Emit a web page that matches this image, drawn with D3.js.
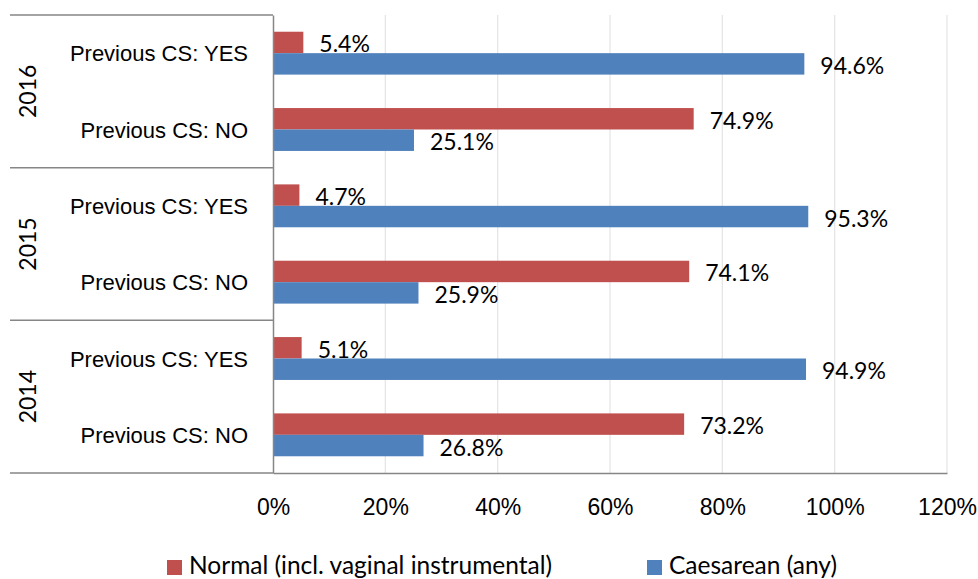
<!DOCTYPE html>
<html>
<head>
<meta charset="utf-8">
<script src="https://cdn.jsdelivr.net/npm/d3@7"></script>
<style>
  html, body { margin: 0; padding: 0; background: #fff; }
  svg { display: block; font-family: Lato, "Open Sans", sans-serif; }
  .axis path, .axis line { stroke: #868686; }
  .axis text { font-size: 23px; fill: #000; }
</style>
</head>
<body>
<script>
// data
const years = ['2016', '2015', '2014'];
const previousCS = ['Previous CS: YES', 'Previous CS: NO'];
const seriesNames = ['Normal (incl. vaginal instrumental)', 'Caesarean (any)'];
const seriesColors = ['#C0504D', '#4F81BD'];
// per year, per previousCS row
const normalValues = [5.4, 74.9, 4.7, 74.1, 5.1, 73.2];
const caesareanValues = [94.6, 25.1, 95.3, 25.9, 94.9, 26.8];
const xTicks = [0, 20, 40, 60, 80, 100, 120];

const width = 978, height = 579;
const trbl = { top: 15, right: 31, bottom: 106, left: 273 };

const svg = d3.select(document.body).append('svg')
  .attr('width', width).attr('height', height);

const rows = [];
years.forEach((y, i) => {
  previousCS.forEach((c, j) => {
    const k = i * previousCS.length + j;
    rows.push({ key: y + '|' + c, year: y, label: c,
      values: [normalValues[k], caesareanValues[k]] });
  });
});

const x = d3.scaleLinear()
  .domain([0, 120])
  .range([trbl.left, width - trbl.right]);

const y = d3.scaleBand()
  .domain(rows.map(d => d.key))
  .range([trbl.top, height - trbl.bottom]);

const ySeries = d3.scaleBand()
  .domain([0, 1])
  .range([0, y.bandwidth()])
  .paddingInner(0)
  .paddingOuter(0.78);

// gridlines
svg.append('g')
  .selectAll('line')
  .data(xTicks.slice(1))
  .join('line')
  .attr('x1', d => x(d)).attr('x2', d => x(d))
  .attr('y1', trbl.top).attr('y2', height - trbl.bottom)
  .attr('stroke', '#e6e6e6').attr('stroke-width', 1.3);

// bars
const rowG = svg.append('g')
  .selectAll('g')
  .data(rows)
  .join('g')
  .attr('transform', d => `translate(0, ${y(d.key)})`);

rowG.selectAll('rect')
  .data(d => d.values)
  .join('rect')
  .attr('x', x(0))
  .attr('y', (d, i) => ySeries(i))
  .attr('width', d => x(d) - x(0))
  .attr('height', ySeries.bandwidth())
  .attr('fill', (d, i) => seriesColors[i]);

rowG.selectAll('text')
  .data(d => d.values)
  .join('text')
  .attr('x', d => x(d) + 16)
  .attr('y', (d, i) => ySeries(i) + ySeries.bandwidth() / 2 + 10)
  .attr('font-size', 23)
  .attr('fill', '#000')
  .text(d => d.toFixed(1) + '%');

// x axis
const xAxis = d3.axisBottom(x)
  .tickValues(xTicks)
  .tickFormat(d => d + '%')
  .tickSize(0)
  .tickPadding(26);
svg.append('g')
  .attr('class', 'axis')
  .attr('transform', `translate(0, ${height - trbl.bottom})`)
  .call(xAxis)
  .call(g => g.select('.domain').attr('stroke-width', 1.5));

// y axis (inner level)
const yAxis = d3.axisLeft(y)
  .tickFormat(k => rows.find(r => r.key === k).label)
  .tickSize(0)
  .tickPadding(25);
svg.append('g')
  .attr('class', 'axis')
  .attr('transform', `translate(${trbl.left}, 0)`)
  .call(yAxis)
  .call(g => g.select('.domain').attr('stroke-width', 1.5))
  .call(g => g.selectAll('text').attr('dy', '0.37em').style('font-size', '22px'));

// group separators and year labels
const groupEdges = years.map(yr => y(yr + '|' + previousCS[0]));
groupEdges.push(height - trbl.bottom);
svg.append('g')
  .selectAll('line')
  .data(groupEdges)
  .join('line')
  .attr('x1', 10).attr('x2', trbl.left)
  .attr('y1', d => d).attr('y2', d => d)
  .attr('stroke', '#868686').attr('stroke-width', 1.5);

svg.append('g')
  .selectAll('text')
  .data(years)
  .join('text')
  .attr('transform', (yr, i) => `translate(28, ${(groupEdges[i] + groupEdges[i + 1]) / 2}) rotate(-90)`)
  .attr('text-anchor', 'middle')
  .attr('dy', '0.36em')
  .attr('font-size', 23)
  .attr('fill', '#000')
  .text(d => d);

// legend
const legendX = [167, 647];
const legend = svg.append('g')
  .selectAll('g')
  .data(seriesNames)
  .join('g')
  .attr('transform', (d, i) => `translate(${legendX[i]}, 560)`);
legend.append('rect')
  .attr('width', 15).attr('height', 15)
  .attr('fill', (d, i) => seriesColors[i]);
legend.append('text')
  .attr('x', 22).attr('y', 14)
  .attr('font-size', 24.5)
  .attr('fill', '#000')
  .text(d => d);
</script>
</body>
</html>
